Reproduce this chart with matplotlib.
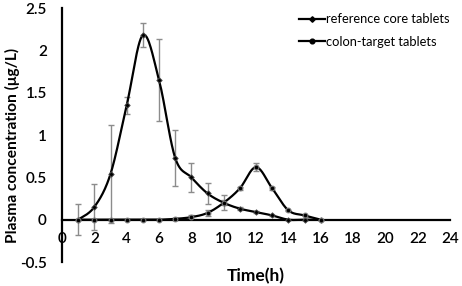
import numpy as np
import matplotlib
matplotlib.use('Agg')
import matplotlib.pyplot as plt
from matplotlib.lines import Line2D

plt.rcParams['font.family'] = ['Lato', 'DejaVu Sans']

# 时间点 (h)
time = [1, 2, 3, 4, 5, 6, 7, 8, 9, 10, 11, 12, 13, 14, 15, 16]

# reference core tablets
core = [0, 0.15, 0.54, 1.35, 2.18, 1.65, 0.73, 0.50, 0.31, 0.20, 0.13, 0.09, 0.05, 0, 0, 0]
core_err = [0.18, 0.27, 0.58, 0.10, 0.14, 0.48, 0.33, 0.17, 0.12, 0.03, 0.02, 0.01, 0.01, 0, 0, 0]

# colon-target tablets
colon = [0, 0, 0, 0, 0, 0, 0.01, 0.03, 0.08, 0.20, 0.37, 0.62, 0.37, 0.11, 0.05, 0]
colon_err = [0, 0, 0, 0, 0, 0, 0.01, 0.02, 0.04, 0.09, 0.02, 0.05, 0.02, 0.01, 0.01, 0]

x_ticks = list(range(0, 25, 2))
y_ticks = [-0.5, 0, 0.5, 1, 1.5, 2, 2.5]


def smooth(x, y, n=30):
    # Excel 风格平滑线 (Bezier)
    x = np.asarray(x, float)
    y = np.asarray(y, float)
    px = np.concatenate([[x[0]], x, [x[-1]]])
    py = np.concatenate([[y[0]], y, [y[-1]]])
    xs, ys = [], []
    t = np.linspace(0, 1, n)
    for i in range(1, len(px) - 2):
        p0 = np.array([px[i], py[i]])
        p3 = np.array([px[i + 1], py[i + 1]])
        c1 = p0 + (np.array([px[i + 1], py[i + 1]]) - np.array([px[i - 1], py[i - 1]])) / 6
        c2 = p3 - (np.array([px[i + 2], py[i + 2]]) - np.array([px[i], py[i]])) / 6
        b = ((1 - t) ** 3)[:, None] * p0 + (3 * (1 - t) ** 2 * t)[:, None] * c1 \
            + (3 * (1 - t) * t ** 2)[:, None] * c2 + (t ** 3)[:, None] * p3
        xs.extend(b[:, 0])
        ys.extend(b[:, 1])
    return xs, ys


fig = plt.figure(figsize=(4.62, 2.86), dpi=100)
ax = fig.add_axes([0.1342, 0.0839, 0.840, 0.888])

ax.errorbar(time, core, yerr=core_err, fmt='none', ecolor='#8c8c8c', elinewidth=1, capsize=2.5, capthick=1, zorder=2)
ax.errorbar(time, colon, yerr=colon_err, fmt='none', ecolor='#8c8c8c', elinewidth=1, capsize=2.5, capthick=1, zorder=2)

sx, sy = smooth(time, core)
ax.plot(sx, sy, color='black', lw=1.6, zorder=3)
ax.plot(time, core, linestyle='none', marker='D', ms=2.8, color='black', mec='#555555', mew=0.6, zorder=4)

sx, sy = smooth(time, colon)
ax.plot(sx, sy, color='black', lw=1.6, zorder=3)
ax.plot(time, colon, linestyle='none', marker='o', ms=3.4, color='black', mec='#777777', mew=0.8, zorder=4)

ax.set_xlim(0, 24)
ax.set_ylim(-0.5, 2.5)
ax.set_xticks(x_ticks)
ax.set_yticks(y_ticks)
ax.set_yticklabels(['-0.5', '0', '0.5', '1', '1.5', '2', '2.5'])

for s in ['top', 'right']:
    ax.spines[s].set_visible(False)
ax.spines['left'].set_position(('data', 0))
ax.spines['bottom'].set_position(('data', 0))
ax.spines['left'].set_linewidth(1.6)
ax.spines['bottom'].set_linewidth(1.6)
ax.tick_params(length=0, labelsize=11)
ax.tick_params(axis='x', pad=9)
ax.tick_params(axis='y', pad=11)
for lab in ax.get_xticklabels() + ax.get_yticklabels():
    lab.set_fontweight('semibold')

fig.text(0.026, 0.49, 'Plasma concentration (μg/L)', rotation=90, ha='center', va='center',
         fontsize=11.2, fontweight='bold')
fig.text(0.554, 0.035, 'Time(h)', ha='center', va='center', fontsize=12.5, fontweight='bold')

handles = [
    Line2D([0], [0], color='black', lw=1.6, marker='D', ms=2.8),
    Line2D([0], [0], color='black', lw=1.6, marker='o', ms=3.4),
]
ax.legend(handles, ['reference core tablets', 'colon-target tablets'], loc='upper left',
          bbox_to_anchor=(0.58, 1.025), frameon=False, fontsize=9.3, handlelength=2.0,
          handletextpad=0.15, labelspacing=0.8)

fig.savefig('out.png', dpi=100)
